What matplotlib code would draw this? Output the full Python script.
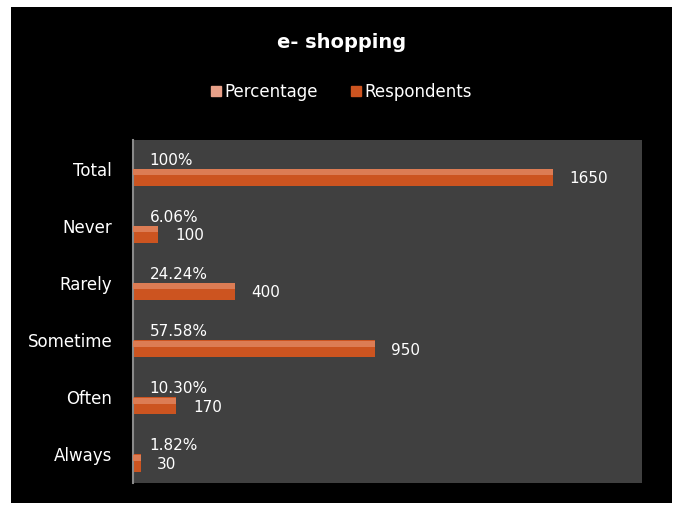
import matplotlib.pyplot as plt
import numpy as np
from matplotlib.patches import Rectangle

categories = ['Total', 'Never', 'Rarely', 'Sometime', 'Often', 'Always']
respondents = [1650, 100, 400, 950, 170, 30]
percentage = [1.0, 0.0606, 0.2424, 0.5758, 0.1030, 0.0182]
pct_labels = ['100%', '6.06%', '24.24%', '57.58%', '10.30%', '1.82%']

PCT_COLOR = '#E8A088'
RESP_COLOR = '#CC5420'
RESP_LIGHT = '#DC7C54'
BG = '#404040'

fig = plt.figure(figsize=(6.76, 5.08), dpi=100, facecolor='white')
# black backdrop behind everything
fig.patches.append(Rectangle((11 / 676, 5 / 508), 661 / 676, 496 / 508,
                             transform=fig.transFigure, facecolor='black',
                             edgecolor='none', zorder=-5))

ax = fig.add_axes([133 / 676, 25 / 508, 509 / 676, 343 / 508])
ax.set_zorder(2)
ax.set_facecolor(BG)

y = np.arange(len(categories))
h = 0.3
ax.barh(y - h / 2, percentage, height=h, color=PCT_COLOR, zorder=2)
ax.barh(y + h / 2, respondents, height=h, color=RESP_COLOR, zorder=2)
# lighter strip along the upper edge of each bar
ax.barh(y + h / 2 - h * 0.3, respondents, height=h * 0.35, color=RESP_LIGHT,
        zorder=3)

for yi, p, r in zip(y, pct_labels, respondents):
    ax.annotate(p, (0, yi - h / 2), xytext=(12, 0), textcoords='offset points',
                va='center', ha='left', color='white', fontsize=11)
    ax.annotate(str(r), (r, yi + h / 2), xytext=(12, -1), textcoords='offset points',
                va='center', ha='left', color='white', fontsize=11)

ax.set_xlim(0, 2000)
ax.set_ylim(len(categories) - 0.5, -0.5)
ax.set_yticks(y)
ax.set_yticklabels(categories, color='white', fontsize=12)
ax.tick_params(axis='y', length=0, pad=15)
ax.set_xticks([])
for side in ['top', 'right', 'bottom']:
    ax.spines[side].set_visible(False)
ax.spines['left'].set_color('#8a8a8a')
ax.spines['left'].set_linewidth(1.5)

fig.text(0.505, 1 - 42 / 508, 'e- shopping', ha='center', va='center',
         color='white', fontsize=14, fontweight='bold')

handles = [Rectangle((0, 0), 1, 1, color=PCT_COLOR),
           Rectangle((0, 0), 1, 1, color=RESP_COLOR)]
fig.legend(handles, ['Percentage', 'Respondents'], loc='center',
           bbox_to_anchor=(0.505, 1 - 92 / 508), ncol=2, frameon=False,
           labelcolor='white', fontsize=12, handlelength=0.6, handleheight=0.6,
           handletextpad=0.2, columnspacing=2.0)

fig.savefig('out.png', dpi=100, facecolor=fig.get_facecolor())
